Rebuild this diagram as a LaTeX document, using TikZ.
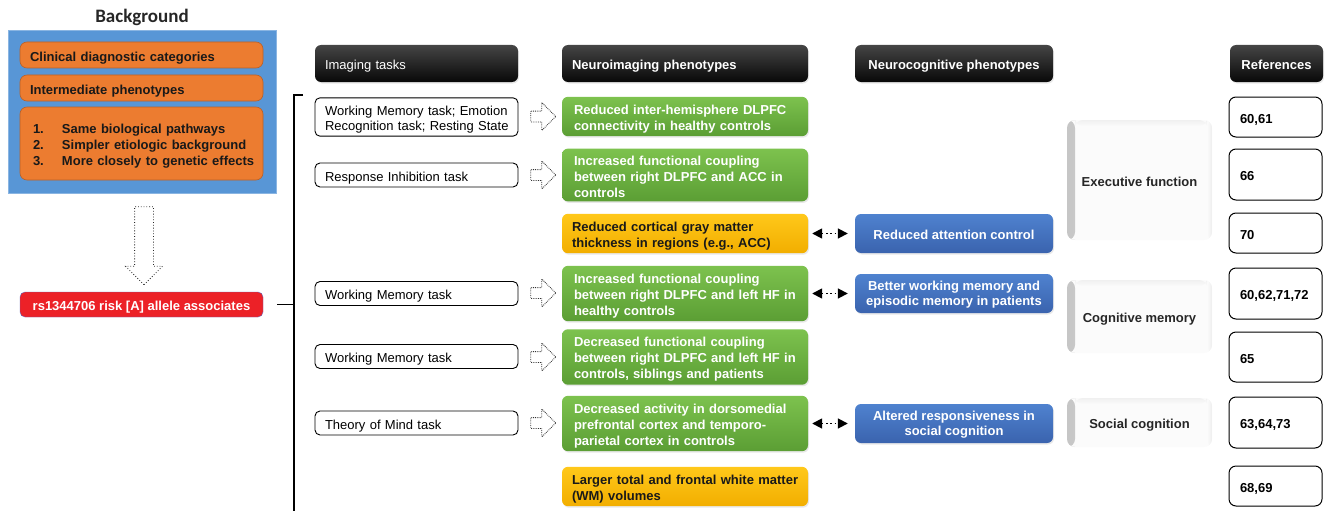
\documentclass[tikz,border=0pt]{standalone}
\usepackage{fontspec}
\setmainfont{Liberation Sans}
\newfontfamily\calib{Carlito}
\usetikzlibrary{shapes.arrows,arrows.meta,shadows}
\newcommand\fsz{\fontsize{13pt}{15.5pt}\selectfont}
\newcommand\fszg{\fontsize{13pt}{16pt}\selectfont}
\definecolor{bgblue}{HTML}{5896D6}
\definecolor{orng}{HTML}{EC7C30}
\definecolor{orngd}{HTML}{B8612A}
\definecolor{rred}{HTML}{EC2127}
\definecolor{grtop}{HTML}{7DC24E}
\definecolor{grbot}{HTML}{5B9E34}
\definecolor{yltop}{HTML}{FFC81A}
\definecolor{ylbot}{HTML}{F2AE00}
\definecolor{bltop}{HTML}{4F82CF}
\definecolor{blbot}{HTML}{3A63AE}
\definecolor{hdrtop}{HTML}{454545}
\definecolor{hdrbot}{HTML}{080808}
\tikzset{
  sl/.style={text height=12.5pt, text depth=0pt},
  ml/.style={text height=14pt},
  lskip/.style={execute at begin node={\leftskip=#1\relax\hyphenpenalty=10000\relax}},
  shad/.style={drop shadow={opacity=0.18,shadow xshift=1pt,shadow yshift=-1.5pt}},
  bgbox/.style={fill=bgblue, draw=bgblue!70!white, minimum width=268pt, minimum height=163pt},
  obox/.style={fill=orng, draw=orngd, line width=0.6pt, rounded corners=7pt, minimum width=243pt, font=\fsz\bfseries, text=black!90, align=left, inner xsep=5pt, text width=233pt},
  redbox/.style={sl, fill=rred, draw=black!45!blue!60, line width=0.4pt, rounded corners=5pt, minimum width=243pt, minimum height=25pt, font=\fsz\bfseries, text=white},
  hdr/.style={sl, shad, rounded corners=6pt, top color=hdrtop, bottom color=hdrbot, draw=none, text=white, font=\fsz\bfseries, minimum height=37pt},
  taskbox/.style={draw=black, line width=0.9pt, rounded corners=5pt, fill=white, inner xsep=5pt, text width=193pt, lskip=5pt, align=left, minimum height=24pt, font=\fsz},
  greenbox/.style={ml, shad, rounded corners=6pt, top color=grtop, bottom color=grbot, text=white, font=\fszg\bfseries, inner xsep=5pt, text width=236pt, lskip=7pt, align=left},
  yellowbox/.style={ml, shad, rounded corners=6pt, top color=yltop, bottom color=ylbot, text=black!90, font=\fszg\bfseries, inner xsep=5pt, text width=236pt, lskip=5pt, align=left, minimum height=39pt},
  bluebox/.style={text depth=0pt, shad, rounded corners=6pt, top color=bltop, bottom color=blbot, text=white, font=\fsz\bfseries, minimum width=198pt, minimum height=39pt, align=center},
  catbox/.style={sl, rounded corners=8pt, fill=gray!3, minimum width=145pt, font=\fsz\bfseries, text=black!85,
    path picture={\shade[left color=gray!45, right color=gray!3] (path picture bounding box.north west) rectangle ([xshift=8pt]path picture bounding box.south west);
      \shade[left color=gray!3, right color=gray!14] ([xshift=-5pt]path picture bounding box.north east) rectangle (path picture bounding box.south east);
      \shade[top color=gray!12, bottom color=gray!3] ([xshift=8pt]path picture bounding box.north west) rectangle ([xshift=-5pt,yshift=-6pt]path picture bounding box.north east);}},
  refbox/.style={sl, draw=black, line width=1pt, rounded corners=7pt, fill=white, inner xsep=11pt, text width=71pt, align=left, font=\fsz\bfseries},
  blockarrow/.style={single arrow, draw=black!80, densely dotted, line width=0.8pt, minimum height=25pt, inner sep=5pt, single arrow head extend=8.5pt, single arrow tip angle=90},
  dblarrow/.style={{Triangle[length=10pt,width=10pt]}-{Triangle[length=10pt,width=10pt]}, dash pattern=on 1.7pt off 2.6pt, line width=1.7pt, shorten <=4pt, shorten >=7pt},
  bracket/.style={line width=1.6pt}
}
\begin{document}
\begin{tikzpicture}[x=1pt,y=-1pt]
\useasboundingbox (0,0) rectangle (1325,511);
% Background panel
\node[font=\calib\fontsize{19pt}{22pt}\selectfont\bfseries, text=black!85] (title) at (142,17) {Background};
\node[bgbox] (bg) at (142,111.5) {};
\node[obox, sl, minimum height=26pt, lskip=5pt] (o1) at (141.5,55) {Clinical diagnostic categories};
\node[obox, sl, minimum height=26pt, lskip=5pt] (o2) at (141.5,88) {Intermediate phenotypes};
\node[obox, ml, text height=15pt, minimum height=73pt, lskip=8pt, font=\fontsize{13pt}{16pt}\selectfont\bfseries] (o3) at (141.5,143.5) {\makebox[29pt][l]{1.}Same biological pathways\\\makebox[29pt][l]{2.}Simpler etiologic background\\\makebox[29pt][l]{3.}More closely to genetic effects};
\node[blockarrow, draw=black!85, dotted, line width=0.8pt, inner sep=9pt, single arrow head extend=9pt, minimum height=78pt, shape border rotate=270] (down) at (144,241) {};
\node[redbox] (red) at (141.5,304.5) {rs1344706 risk [A] allele associates};
% bracket
\coordinate (btop) at (294,95);
\coordinate (bhook) at (303,95);
\coordinate (bbot) at (294,515);
\draw[bracket] (bhook) -- (btop) -- (bbot);
\draw[bracket] ([xshift=14pt]red.east) -- (red.east -| btop);
% headers
\node[hdr, inner xsep=5pt, text width=193pt, lskip=5pt, align=left, font=\fsz] (h1) at (416.5,63.5) {Imaging tasks};
\node[hdr, inner xsep=5pt, text width=236pt, lskip=5pt, align=left] (h2) at (685,63.5) {Neuroimaging phenotypes};
\node[hdr, minimum width=198pt] (h3) at (954,63.5) {Neurocognitive phenotypes};
\node[hdr, minimum width=93pt] (h4) at (1276.5,63.5) {References};
% imaging tasks
\node[taskbox, ml, minimum height=34pt, font=\fontsize{13pt}{15pt}\selectfont] (t1) at (416.5,117) {Working Memory task; Emotion\\Recognition task; Resting State};
\node[taskbox, sl] (t2) at (416.5,175) {Response Inhibition task};
\node[taskbox, sl] (t3) at (416.5,293.5) {Working Memory task};
\node[taskbox, sl] (t4) at (416.5,356.5) {Working Memory task};
\node[taskbox, sl] (t5) at (416.5,423) {Theory of Mind task};
% block arrows
\node[blockarrow] (a1) at (540.5,116.5) {};
\node[blockarrow] (a2) at (540.5,175) {};
\node[blockarrow] (a3) at (540.5,293) {};
\node[blockarrow] (a4) at (540.5,357) {};
\node[blockarrow] (a5) at (540.5,423) {};
% neuroimaging phenotypes
\node[greenbox, minimum height=39pt] (g1) at (685,116.5) {Reduced inter-hemisphere DLPFC\\connectivity in healthy controls};
\node[greenbox, minimum height=50pt] (g2) at (685,175) {Increased functional coupling\\between right DLPFC and ACC in\\controls};
\node[yellowbox] (y1) at (685,233.5) {Reduced cortical gray matter\\thickness in regions (e.g., ACC)};
\node[greenbox, minimum height=51pt] (g3) at (685,293.5) {Increased functional coupling\\between right DLPFC and left HF in\\healthy controls};
\node[greenbox, minimum height=50pt] (g4) at (685,357) {Decreased functional coupling\\between right DLPFC and left HF in\\controls, siblings and patients};
\node[greenbox, minimum height=51pt] (g5) at (685,423.5) {Decreased activity in dorsomedial\\prefrontal cortex and temporo-\\parietal cortex in controls};
\node[yellowbox] (y2) at (685,486.5) {Larger total and frontal white matter\\(WM) volumes};
% neurocognitive phenotypes
\node[bluebox, sl] (b1) at (954,233.5) {Reduced attention control};
\node[bluebox] (b2) at (954,293.5) {Better working memory and\\episodic memory in patients};
\node[bluebox] (b3) at (954,423.5) {Altered responsiveness in\\social cognition};
\draw[dblarrow] (y1.east) -- (b1.west);
\draw[dblarrow] (g3.east) -- (b2.west);
\draw[dblarrow] (g5.east) -- (b3.west);
% categories
\node[catbox, minimum height=120pt] (c1) at (1139.5,180) {Executive function};
\node[catbox, minimum height=73pt] (c2) at (1139.5,316.5) {Cognitive memory};
\node[catbox, minimum height=49pt] (c3) at (1139.5,422.5) {Social cognition};
% references
\node[refbox, minimum height=40pt] (r1) at (1275.5,117) {60,61};
\node[refbox, minimum height=51pt] (r2) at (1275.5,174.5) {66};
\node[refbox, minimum height=40pt] (r3) at (1275.5,233) {70};
\node[refbox, minimum height=51pt] (r4) at (1275.5,293.5) {60,62,71,72};
\node[refbox, minimum height=50pt] (r5) at (1275.5,357) {65};
\node[refbox, minimum height=51pt] (r6) at (1275.5,422.5) {63,64,73};
\node[refbox, minimum height=40pt] (r7) at (1275.5,486) {68,69};
\end{tikzpicture}
\end{document}
